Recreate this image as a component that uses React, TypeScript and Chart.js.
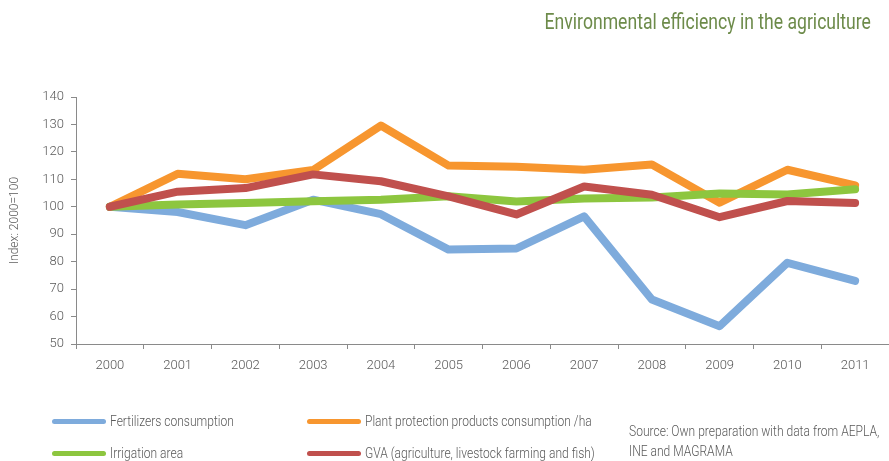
import React, { useEffect, useRef } from "react";
import { Chart, registerables } from "chart.js";

Chart.register(...registerables);

const years = ["2000", "2001", "2002", "2003", "2004", "2005", "2006", "2007", "2008", "2009", "2010", "2011"];
const fertilizers = [100, 98.1, 93.3, 102.6, 97.3, 84.4, 84.8, 96.5, 66.2, 56.5, 79.6, 73.0];
const plantProtection = [100, 112.0, 110.0, 113.4, 129.6, 115.0, 114.6, 113.5, 115.4, 101.5, 113.5, 107.8];
const irrigation = [100, 100.8, 101.4, 102.0, 102.6, 103.8, 101.9, 103.0, 103.4, 104.8, 104.5, 106.4];
const gva = [100, 105.5, 106.8, 111.8, 109.3, 103.8, 97.2, 107.4, 104.4, 96.2, 102.1, 101.4];
const yTicks = [50, 60, 70, 80, 90, 100, 110, 120, 130, 140];

const FONT = '"Roboto", "Liberation Sans", sans-serif';

export default function App() {
  const ref = useRef<HTMLCanvasElement | null>(null);

  useEffect(() => {
    document.body.style.margin = "0";
    const ctx = ref.current!.getContext("2d")!;
    const mk = (label: string, data: number[], color: string) => ({
      label,
      data,
      borderColor: color,
      backgroundColor: color,
      borderWidth: 8,
      pointRadius: 0,
      tension: 0,
      borderCapStyle: "round" as const,
      borderJoinStyle: "round" as const,
      fill: false,
    });
    const chart = new Chart(ctx, {
      type: "line",
      data: {
        labels: years,
        datasets: [
          mk("GVA (agriculture, livestock farming and fish)", gva, "#c0504d"),
          mk("Irrigation area", irrigation, "#8dc63f"),
          mk("Plant protection products consumption /ha", plantProtection, "#f7962f"),
          mk("Fertilizers consumption", fertilizers, "#7eabdc"),
        ],
      },
      options: {
        responsive: false,
        animation: false,
        layout: { padding: { top: 97, left: 8, right: 0, bottom: 0 } },
        plugins: { legend: { display: false }, tooltip: { enabled: false }, title: { display: false } },
        scales: {
          x: {
            offset: true,
            grid: { offset: true, drawOnChartArea: false, drawTicks: true, tickLength: 5, color: "#8a8a8a", lineWidth: 1 },
            border: { color: "#8a8a8a", width: 1 },
            ticks: { color: "#595959", font: { family: FONT, size: 13, weight: "300" }, padding: 9, maxRotation: 0 },
            afterFit: (s: any) => { s.height = 117; },
          },
          y: {
            min: 50,
            max: 140,
            afterBuildTicks: (s: any) => { s.ticks = yTicks.map((v) => ({ value: v })); },
            grid: { drawOnChartArea: false, drawTicks: true, tickLength: 5, color: "#8a8a8a", lineWidth: 1 },
            border: { color: "#8a8a8a", width: 1 },
            ticks: { color: "#595959", font: { family: FONT, size: 13, weight: "300" }, padding: 7 },
            title: { display: true, text: "Index: 2000=100", color: "#595959", font: { family: FONT, size: 12, weight: "300" }, padding: { top: 0, bottom: 0 } },
            afterFit: (s: any) => { s.width = 68; },
          },
        },
      },
    });
    return () => chart.destroy();
  }, []);

  const textStyle: React.CSSProperties = {
    fontFamily: FONT,
    fontWeight: 300,
    fontSize: 14,
    color: "#595959",
    display: "inline-block",
    transform: "scaleX(0.86)",
    transformOrigin: "left center",
    whiteSpace: "nowrap",
  };

  const legendItem = (left: number, top: number, color: string, text: string) => (
    <div style={{ position: "absolute", left, top, display: "flex", alignItems: "center", whiteSpace: "nowrap" }}>
      <div style={{ width: 54, height: 5, background: color, borderRadius: 3, marginRight: 4 }} />
      <span style={textStyle}>{text}</span>
    </div>
  );

  return (
    <div style={{ position: "fixed", left: 0, top: 0, width: 889, height: 461, background: "#fff", overflow: "hidden" }}>
      <canvas ref={ref} width={889} height={461} style={{ position: "absolute", left: 0, top: 0 }} />
      <div
        style={{
          position: "absolute",
          right: 18,
          top: 9,
          fontFamily: FONT,
          fontWeight: 400,
          fontSize: 22,
          color: "#6d8b4a",
          whiteSpace: "nowrap",
          transform: "scaleX(0.8)",
          transformOrigin: "right center",
        }}
      >
        Environmental efficiency in the agriculture
      </div>
      {legendItem(52, 413, "#7eabdc", "Fertilizers consumption")}
      {legendItem(307, 413, "#f7962f", "Plant protection products consumption /ha")}
      {legendItem(52, 445, "#8dc63f", "Irrigation area")}
      {legendItem(307, 445, "#c0504d", "GVA (agriculture, livestock farming and fish)")}
      <div style={{ position: "absolute", left: 629, top: 421, lineHeight: "19px" }}>
        <span style={textStyle}>Source: Own preparation with data from AEPLA,</span>
        <br />
        <span style={textStyle}>INE and MAGRAMA</span>
      </div>
    </div>
  );
}
